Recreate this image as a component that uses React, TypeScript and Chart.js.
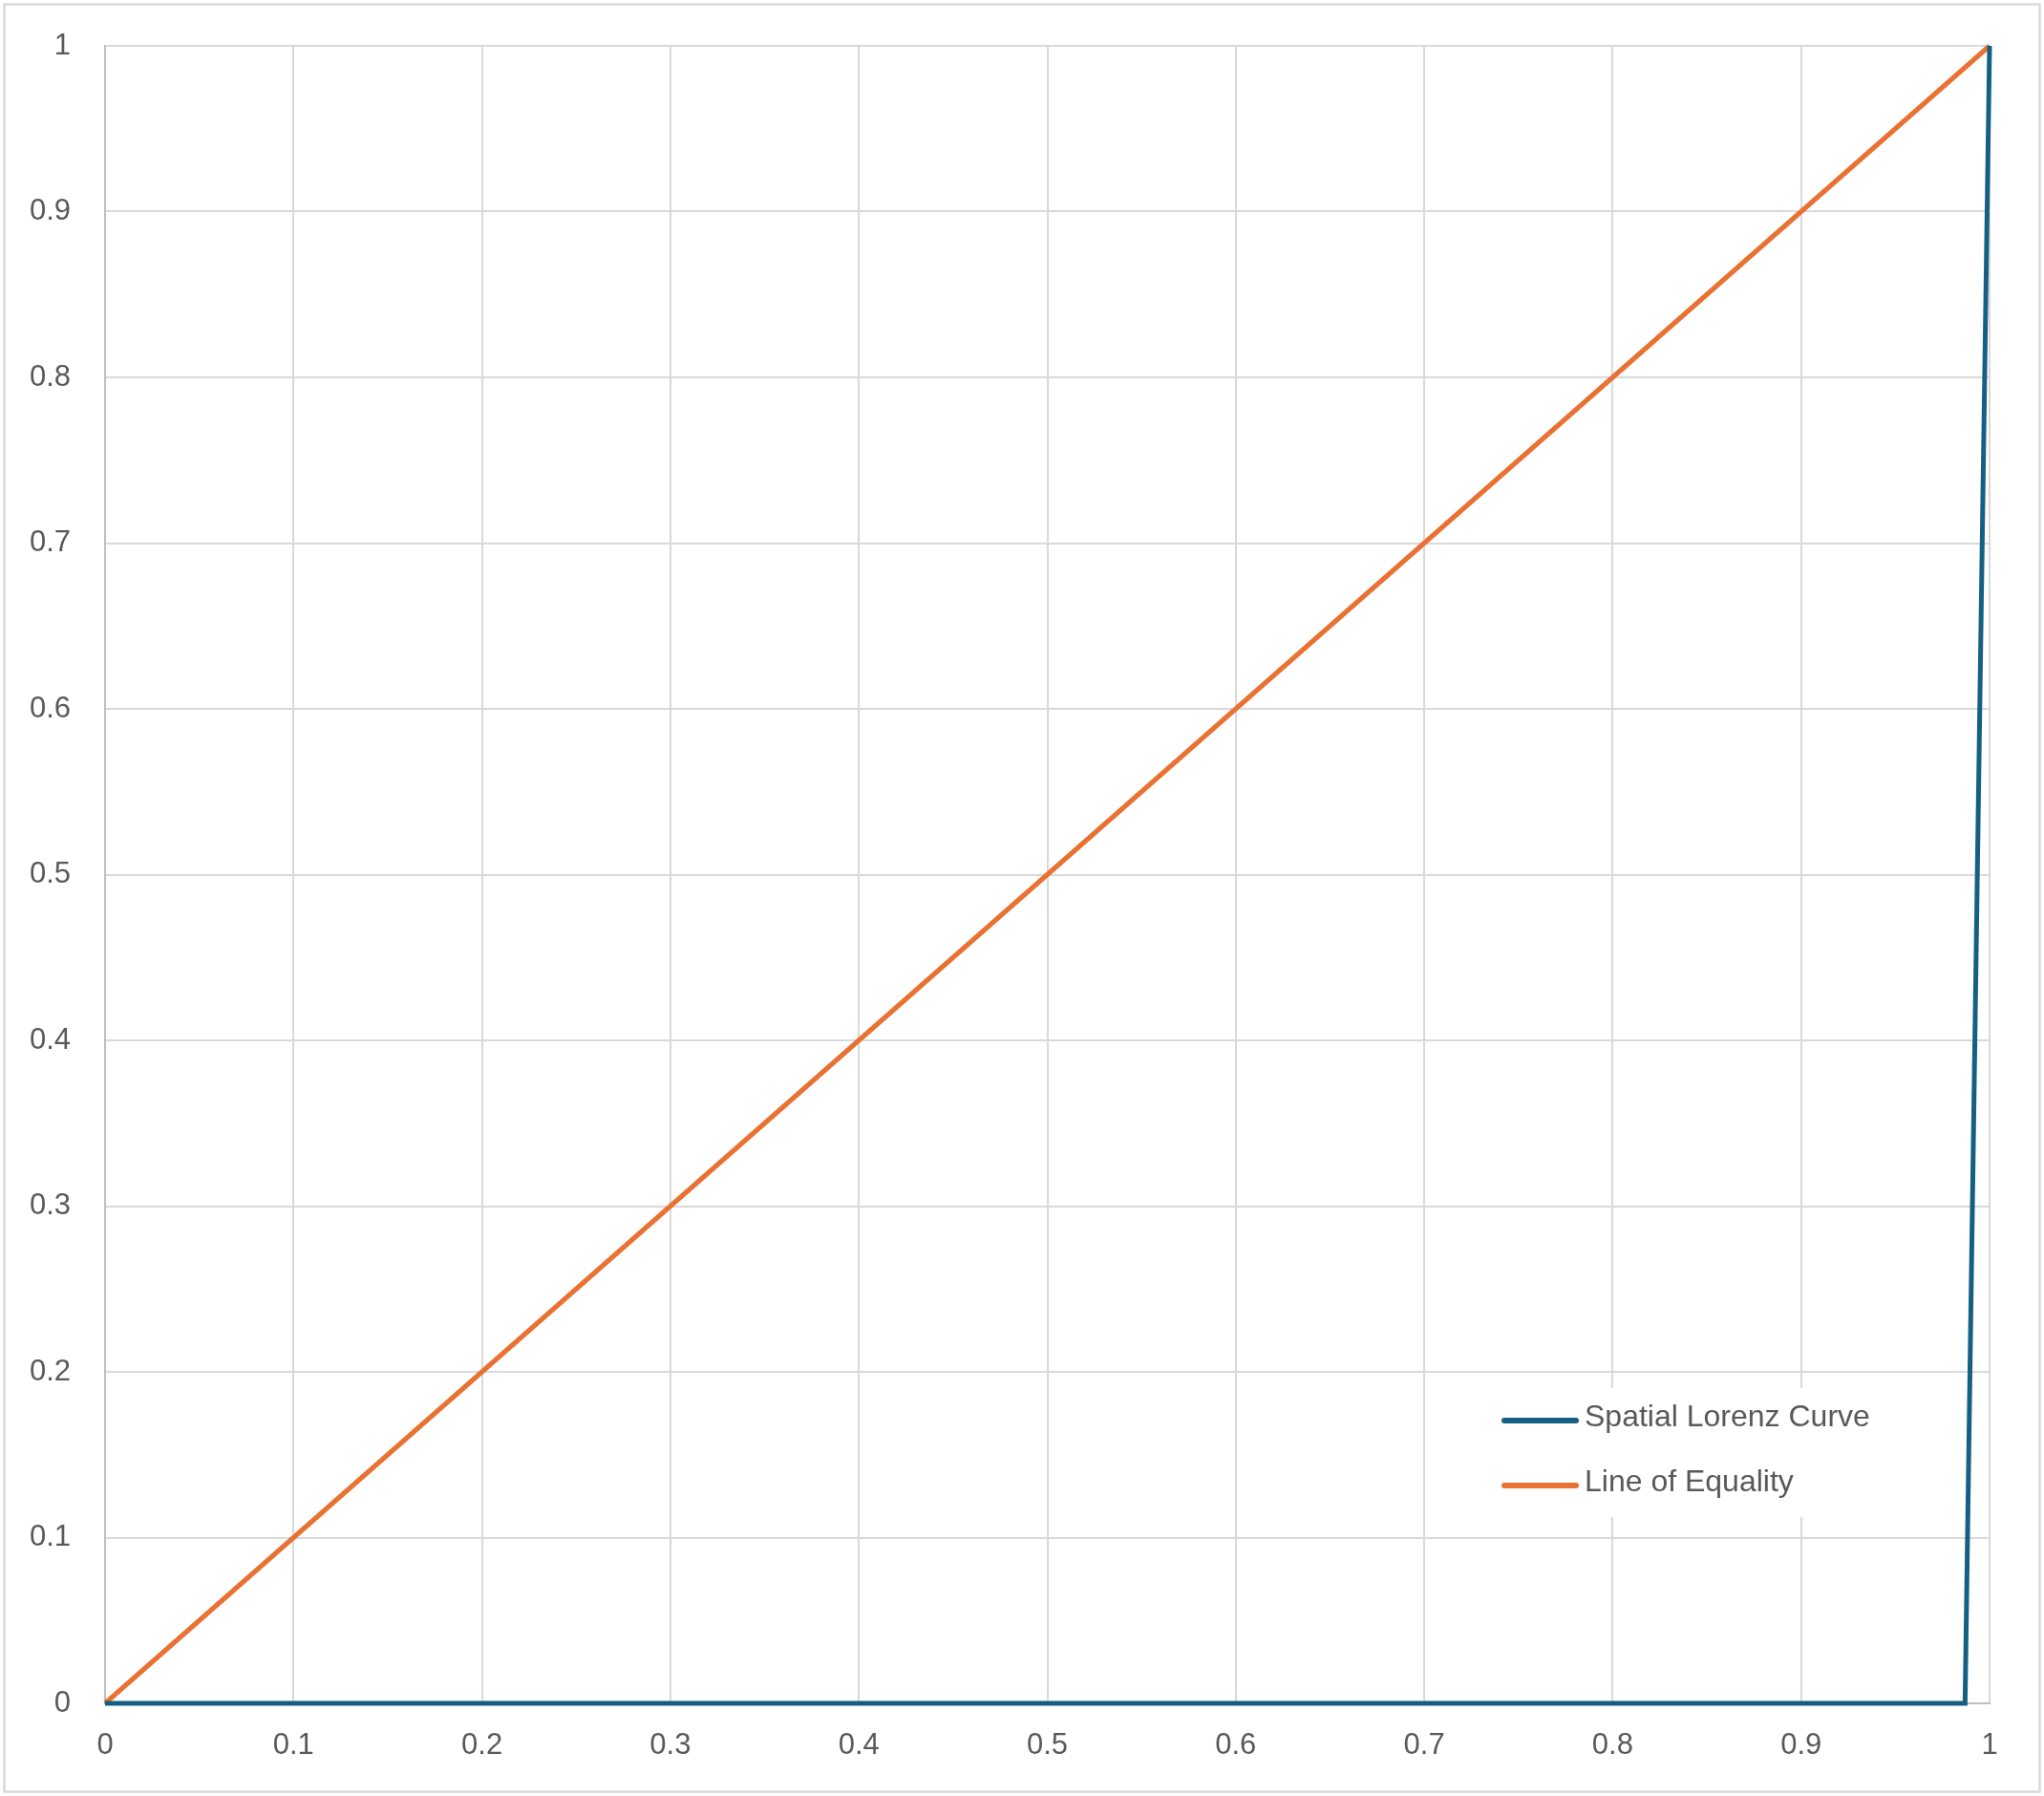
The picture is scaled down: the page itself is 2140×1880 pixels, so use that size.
import React, { useEffect, useRef } from 'react';
import { Chart, registerables } from 'chart.js';

Chart.register(...registerables);

// Spatial Lorenz curve: flat at zero until the very last share, then jumps to 1
const lorenzX = [0, 0.987, 1];
const lorenzY = [0, 0, 1];

// Line of equality (y = x), read point by point
const equalityX = [0, 0.1, 0.2, 0.3, 0.4, 0.5, 0.6, 0.7, 0.8, 0.9, 1];
const equalityY = [0, 0.1, 0.2, 0.3, 0.4, 0.5, 0.6, 0.7, 0.8, 0.9, 1];

const seriesLabels = ['Spatial Lorenz Curve', 'Line of Equality'];
const seriesColors = ['#156082', '#E97132'];

const tickValues = [0, 0.1, 0.2, 0.3, 0.4, 0.5, 0.6, 0.7, 0.8, 0.9, 1];

const FONT = "'Liberation Sans', Arial, sans-serif";
const TEXT = '#595959';
const GRID = '#D9D9D9';

// Outer chart frame, drawn before everything else
const framePlugin = {
  id: 'frame',
  beforeDraw(chart: any) {
    const { ctx, width, height } = chart;
    ctx.save();
    ctx.fillStyle = '#ffffff';
    ctx.fillRect(0, 0, width, height);
    ctx.strokeStyle = GRID;
    ctx.lineWidth = 2.5;
    ctx.strokeRect(4.5, 4.5, width - 9, height - 9);
    ctx.restore();
  }
};

// Legend box inside the plot area (lower right), like the Excel original
const insideLegendPlugin = {
  id: 'insideLegend',
  afterDraw(chart: any) {
    const { ctx } = chart;
    const boxX = 1560;
    const boxY = 1453;
    const boxW = 400;
    const boxH = 135;
    ctx.save();
    ctx.fillStyle = '#ffffff';
    ctx.fillRect(boxX, boxY, boxW, boxH);
    chart.data.datasets.forEach((ds: any, i: number) => {
      const y = 1487 + i * 68;
      ctx.strokeStyle = ds.borderColor;
      ctx.lineWidth = 6;
      ctx.lineCap = 'round';
      ctx.beginPath();
      ctx.moveTo(1575, y);
      ctx.lineTo(1650, y);
      ctx.stroke();
      ctx.fillStyle = TEXT;
      ctx.font = `32px ${FONT}`;
      ctx.textBaseline = 'middle';
      ctx.textAlign = 'left';
      ctx.fillText(ds.label, 1659, y - 3);
    });
    ctx.restore();
  }
};

const App: React.FC = () => {
  const canvasRef = useRef<HTMLCanvasElement>(null);
  const chartRef = useRef<any>(null);

  useEffect(() => {
    document.body.style.margin = '0';
    if (!canvasRef.current) return;
    if (chartRef.current) chartRef.current.destroy();

    const axisTicks = {
      color: TEXT,
      font: { family: FONT, size: 31 },
      autoSkip: false,
      maxRotation: 0
    };

    chartRef.current = new Chart(canvasRef.current, {
      type: 'scatter',
      data: {
        datasets: [
          {
            label: seriesLabels[0],
            data: lorenzX.map((x, i) => ({ x, y: lorenzY[i] })),
            borderColor: seriesColors[0],
            backgroundColor: seriesColors[0],
            borderWidth: 5,
            showLine: true,
            pointRadius: 0,
            tension: 0,
            clip: false,
            order: 1
          },
          {
            label: seriesLabels[1],
            data: equalityX.map((x, i) => ({ x, y: equalityY[i] })),
            borderColor: seriesColors[1],
            backgroundColor: seriesColors[1],
            borderWidth: 5,
            showLine: true,
            pointRadius: 0,
            tension: 0,
            clip: false,
            order: 2
          }
        ]
      },
      options: {
        responsive: false,
        devicePixelRatio: 1,
        animation: false,
        layout: { autoPadding: false, padding: { left: 0, top: 48, right: 57, bottom: 17 } },
        scales: {
          x: {
            type: 'linear',
            min: 0,
            max: 1,
            afterBuildTicks: (scale: any) => {
              scale.ticks = tickValues.map((v) => ({ value: v }));
            },
            afterFit: (scale: any) => {
              scale.height = 80;
            },
            ticks: { ...axisTicks, padding: 26, callback: (v: any) => String(Number(v)) },
            grid: { color: GRID, lineWidth: 2, drawTicks: false },
            border: { color: '#BFBFBF', width: 2 }
          },
          y: {
            type: 'linear',
            min: 0,
            max: 1,
            afterBuildTicks: (scale: any) => {
              scale.ticks = tickValues.map((v) => ({ value: v }));
            },
            afterFit: (scale: any) => {
              scale.width = 110;
              // tick padding is horizontal here; keep it out of the vertical layout
              scale.paddingTop = 18;
              scale.paddingBottom = 18;
            },
            ticks: { ...axisTicks, padding: 36, callback: (v: any) => String(Number(v)) },
            grid: { color: GRID, lineWidth: 2, drawTicks: false },
            border: { color: '#BFBFBF', width: 2 }
          }
        },
        plugins: {
          legend: { display: false },
          tooltip: { enabled: false },
          title: { display: false }
        }
      },
      plugins: [framePlugin, insideLegendPlugin]
    });

    return () => {
      if (chartRef.current) {
        chartRef.current.destroy();
        chartRef.current = null;
      }
    };
  }, []);

  return (
    <div style={{ position: 'absolute', left: 0, top: 0, width: 2140, height: 1880 }}>
      <canvas ref={canvasRef} width={2140} height={1880} />
    </div>
  );
};

export default App;
